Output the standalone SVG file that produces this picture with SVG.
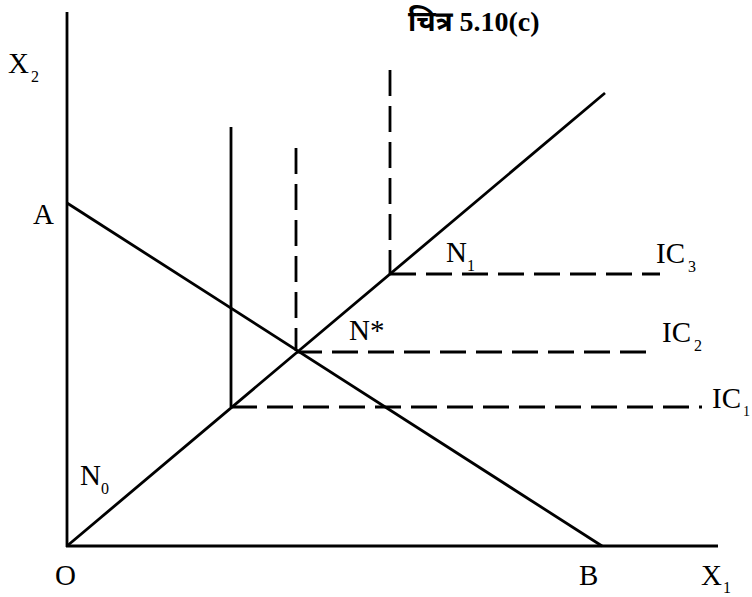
<svg xmlns="http://www.w3.org/2000/svg" width="752" height="597" viewBox="0 0 752 597">
<style>
.ln{stroke:#000;stroke-width:2.8;fill:none;stroke-linecap:butt}
.ds{stroke:#000;stroke-width:2.8;fill:none;stroke-dasharray:26 10}
.t{font-family:"Liberation Serif","Times New Roman",serif;font-size:29px;fill:#000}
.s{font-family:"Liberation Serif","Times New Roman",serif;font-size:16px;fill:#000}
.ti{font-family:"Liberation Serif","Noto Sans Devanagari","Noto Sans",serif;font-size:28px;font-weight:bold;fill:#000}
</style>
<rect width="752" height="597" fill="#fff"/>
<g id="title"><text class="ti" x="408" y="31">चित्र 5.10(c)</text></g>
<g id="axes">
<line class="ln" x1="67" y1="12" x2="67" y2="547"/>
<line class="ln" x1="66" y1="546" x2="718" y2="546"/>
</g>
<g id="connectors">
<line id="ray" class="ln" x1="67" y1="546" x2="605" y2="93"/>
<line id="budget" class="ln" x1="67" y1="203" x2="602" y2="546"/>
<g id="IC1">
<line class="ln" x1="231" y1="127" x2="231" y2="407"/>
<line class="ds" x1="231" y1="407" x2="702" y2="407"/>
</g>
<g id="IC2">
<line class="ds" x1="296" y1="148" x2="296" y2="351"/>
<line class="ds" x1="296" y1="352" x2="650" y2="352"/>
</g>
<g id="IC3">
<line class="ds" x1="390" y1="70" x2="390" y2="274"/>
<line class="ds" x1="390" y1="274" x2="660" y2="274"/>
</g>
</g>
<g id="labels">
<text class="t" x="8" y="73">X</text><text class="s" x="31" y="82">2</text>
<text class="t" x="33" y="224">A</text>
<text class="t" x="55" y="585">O</text>
<text class="t" x="579" y="585">B</text>
<text class="t" x="701" y="585">X</text><text class="s" x="723" y="593">1</text>
<text class="t" x="80" y="485">N</text><text class="s" x="101" y="494">0</text>
<text class="t" x="446" y="262">N</text><text class="s" x="467" y="271">1</text>
<text class="t" x="349" y="340">N*</text>
<text class="t" x="656" y="263">IC</text><text class="s" x="688" y="272">3</text>
<text class="t" x="662" y="342">IC</text><text class="s" x="694" y="351">2</text>
<text class="t" x="712" y="408">IC</text><text class="s" x="743" y="416" style="font-size:14px">1</text>
</g>
</svg>
